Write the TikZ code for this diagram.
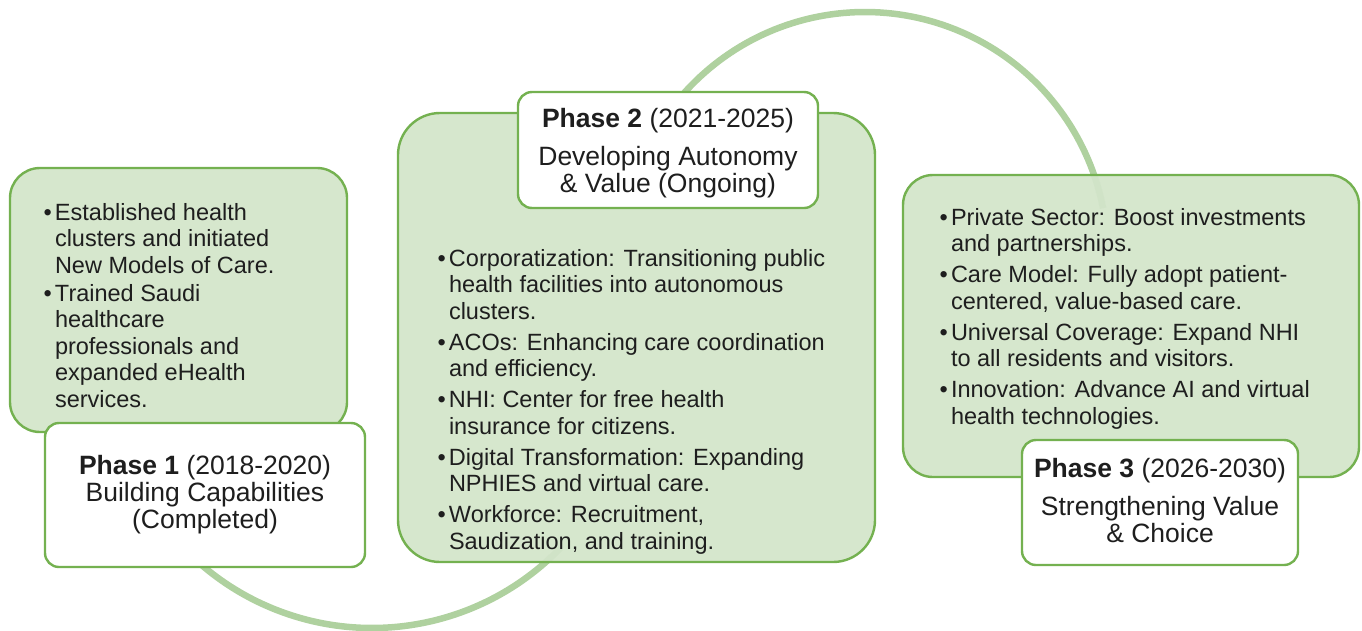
\documentclass[tikz,border=0pt]{standalone}
\usepackage{fontspec}
\setmainfont{Liberation Sans}
\definecolor{edgegreen}{HTML}{74B150}
\definecolor{panelgreen}{HTML}{D3E5CA}
\definecolor{ringgreen}{HTML}{AFD19F}
\definecolor{ink}{HTML}{1E1E1E}
% bullet item with hanging indent
\newcommand\bitem{\par\noindent\hangindent=11.5pt\hangafter=1\makebox[11.5pt][l]{\textbullet}}
\newcommand\bodyfont{\fontsize{23.5}{26.5}\selectfont}
\newcommand\headfont{\fontsize{26.5}{27}\selectfont}
\begin{document}
\begin{tikzpicture}[x=1pt,y=-1pt,
  panel/.style={draw=edgegreen, line width=2.4pt, fill=panelgreen, fill opacity=0.94,
    rounded corners=#1, inner sep=0pt, outer sep=0pt, anchor=north west},
  titlebox/.style={draw=edgegreen, line width=2.4pt, fill=white,
    rounded corners=14pt, inner sep=0pt, outer sep=0pt, anchor=north west},
  ring/.style={draw=ringgreen, line width=6.5pt},
  txt/.style={inner sep=0pt, outer sep=0pt, text=ink}
]
\useasboundingbox (0,0) rectangle (1362,630);

% background rings
\draw[ring] plot[domain=215:349, samples=90] ({865+242.5*cos(\x)},{254.5+242.5*sin(\x)});
\draw[ring] plot[domain=44:138, samples=90] ({372+262*cos(\x)},{366+262*sin(\x)});

% content panels
\node[panel=30pt, minimum width=337pt, minimum height=264pt] (g1) at (10,168) {};
\node[panel=42pt, minimum width=477pt, minimum height=449pt] (g2) at (398,113) {};
\node[panel=30pt, minimum width=456pt, minimum height=302pt] (g3) at (903,175) {};

% phase title boxes
\node[titlebox, minimum width=320pt, minimum height=144pt] (b1) at (45,423) {};
\node[titlebox, minimum width=300pt, minimum height=116pt] (b2) at (518,92) {};
\node[titlebox, minimum width=276pt, minimum height=125pt] (b3) at (1022,440) {};

% phase titles
\node[txt, anchor=base] (h1) at (205,474) {\parbox[t]{310pt}{\centering\headfont
  \textbf{Phase 1} (2018-2020)\\Building Capabilities\\(Completed)}};
\node[txt, anchor=base] (h2) at (668,127) {\parbox[t]{290pt}{\centering\headfont
  \textbf{Phase 2} (2021-2025)\\[11pt]Developing Autonomy\\\& Value (Ongoing)}};
\node[txt, anchor=base] (h3) at (1160,477) {\parbox[t]{270pt}{\centering\headfont
  \textbf{Phase 3} (2026-2030)\\[11pt]Strengthening Value\\\& Choice}};

% bullet lists
\node[txt, anchor=base west] (l1) at (43.5,220) {\parbox[t]{300pt}{\bodyfont\setlength\parskip{1.5pt}%
  \bitem Established health\\clusters and initiated\\New Models of Care.%
  \bitem Trained Saudi\\healthcare\\professionals and\\expanded eHealth\\services.}};
\node[txt, anchor=base west] (l2) at (437.5,266) {\parbox[t]{420pt}{\bodyfont\setlength\parskip{4.5pt}%
  \bitem Corporatization: Transitioning public\\health facilities into autonomous\\clusters.%
  \bitem ACOs: Enhancing care coordination\\and efficiency.%
  \bitem NHI: Center for free health\\insurance for citizens.%
  \bitem Digital Transformation: Expanding\\NPHIES and virtual care.%
  \bitem Workforce: Recruitment,\\Saudization, and training.}};
\node[txt, anchor=base west] (l3) at (939.5,225) {\parbox[t]{410pt}{\bodyfont\setlength\parskip{4.5pt}%
  \bitem Private Sector: Boost investments\\and partnerships.%
  \bitem Care Model: Fully adopt patient-\\centered, value-based care.%
  \bitem Universal Coverage: Expand NHI\\to all residents and visitors.%
  \bitem Innovation: Advance AI and virtual\\health technologies.}};
\end{tikzpicture}
\end{document}
